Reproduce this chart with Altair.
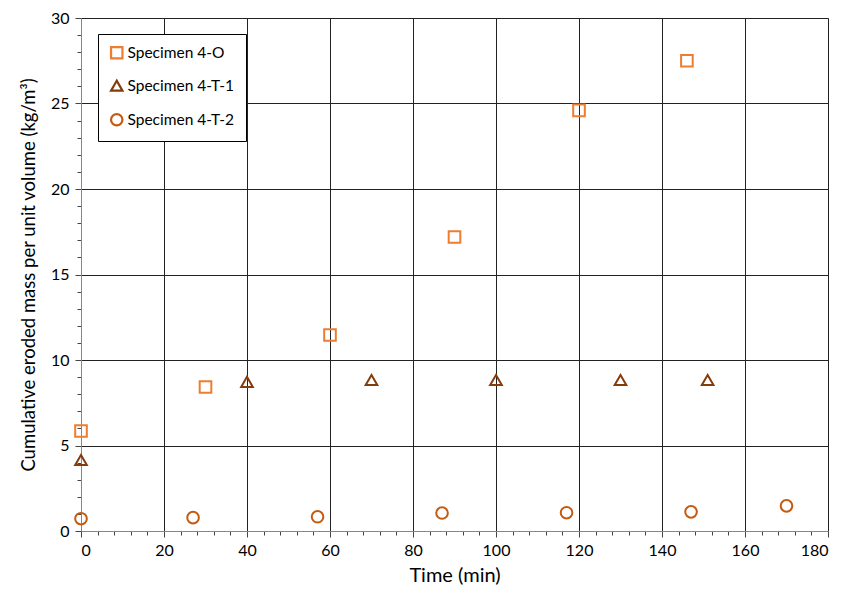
import altair as alt
import pandas as pd

series = ["Specimen 4-O", "Specimen 4-T-1", "Specimen 4-T-2"]
colors = ["#ED7D31", "#843C0C", "#C55A11"]
shapes = ["square", "triangle-up", "circle"]

o_x = [0, 30, 60, 90, 120, 146]
o_y = [5.85, 8.42, 11.46, 17.19, 24.6, 27.5]
t1_x = [0, 40, 70, 100, 130, 151]
t1_y = [4.15, 8.72, 8.83, 8.83, 8.83, 8.83]
t2_x = [0, 27, 57, 87, 117, 147, 170]
t2_y = [0.72, 0.78, 0.83, 1.05, 1.07, 1.12, 1.47]

x_ticks = list(range(0, 181, 4))
y_ticks = list(range(0, 31, 1))

rows = []
for name, xs, ys in zip(series, [o_x, t1_x, t2_x], [o_y, t1_y, t2_y]):
    for a, b in zip(xs, ys):
        rows.append({"Series": name, "t": a, "m": b})
df = pd.DataFrame(rows)

FONT = "Lato"

chart = alt.Chart(df).mark_point(filled=False, strokeWidth=2, size=135, opacity=1).encode(
    x=alt.X("t:Q", title="Time (min)",
            scale=alt.Scale(domain=[0, 180], nice=False),
            axis=alt.Axis(values=x_ticks,
                          labelExpr="datum.value % 20 === 0 ? datum.label : ''",
                          gridOpacity={"condition": {"test": "datum.value % 20 === 0", "value": 1}, "value": 0},
                          tickSize={"condition": {"test": "datum.value % 20 === 0", "value": 6}, "value": 4},
                          labelFontSize=16, titleFontSize=20, labelPadding=5, titlePadding=7,
                          labelColor="#000", titleColor="#000", titleFontWeight="normal",
                          domainColor="#868686", tickColor="#444", gridColor="#222", gridWidth=1,
                          labelFont=FONT, titleFont=FONT)),
    y=alt.Y("m:Q", title="Cumulative eroded mass per unit volume (kg/m³)",
            scale=alt.Scale(domain=[0, 30], nice=False),
            axis=alt.Axis(values=y_ticks,
                          labelExpr="datum.value % 5 === 0 ? datum.label : ''",
                          gridOpacity={"condition": {"test": "datum.value % 5 === 0", "value": 1}, "value": 0},
                          tickSize={"condition": {"test": "datum.value % 5 === 0", "value": 6}, "value": 4},
                          labelFontSize=16, titleFontSize=18.5, labelPadding=6, titlePadding=12,
                          labelColor="#000", titleColor="#000", titleFontWeight="normal",
                          domainColor="#868686", tickColor="#444", gridColor="#222", gridWidth=1,
                          labelFont=FONT, titleFont=FONT)),
    color=alt.Color("Series:N", scale=alt.Scale(domain=series, range=colors),
                    legend=alt.Legend(title=None, orient="none", legendX=17, legendY=16,
                                      strokeColor="#000", fillColor="#fff", padding=11,
                                      rowPadding=13, labelFontSize=15.5, labelFont=FONT,
                                      labelColor="#000", symbolStrokeWidth=2.2, symbolSize=130,
                                      labelOffset=3)),
    shape=alt.Shape("Series:N", scale=alt.Scale(domain=series, range=shapes)),
).properties(
    width=747, height=513,
    autosize=alt.AutoSizeParams(type="none"),
    padding={"left": 73, "top": 10, "right": 10, "bottom": 60},
).configure_view(stroke=None).configure(background="#fff")

chart.save("out.html", embed_options={"renderer": "svg", "actions": False})
